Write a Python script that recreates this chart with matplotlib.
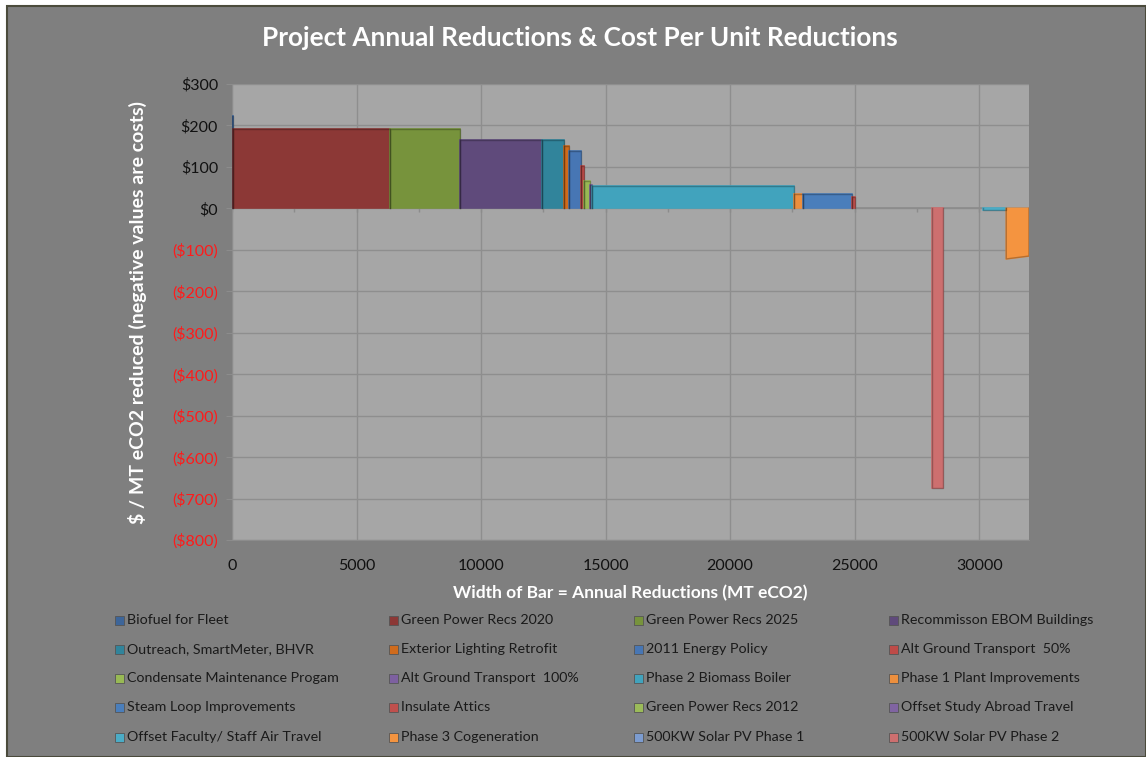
import numpy as np
import matplotlib
matplotlib.use("Agg")
import matplotlib.pyplot as plt
from matplotlib.patches import Rectangle

plt.rcParams['font.family'] = ['Lato', 'DejaVu Sans']

# legend order (as listed in the chart legend)
legend_names = [
    "Biofuel for Fleet", "Green Power Recs 2020", "Green Power Recs 2025", "Recommisson EBOM Buildings",
    "Outreach, SmartMeter, BHVR", "Exterior Lighting Retrofit", "2011 Energy Policy", "Alt Ground Transport  50%",
    "Condensate Maintenance Progam", "Alt Ground Transport  100%", "Phase 2 Biomass Boiler", "Phase 1 Plant Improvements",
    "Steam Loop Improvements", "Insulate Attics", "Green Power Recs 2012", "Offset Study Abroad Travel",
    "Offset Faculty/ Staff Air Travel", "Phase 3 Cogeneration", "500KW Solar PV Phase 1", "500KW Solar PV Phase 2",
]
legend_colors = [
    "#3d6599", "#8c3836", "#77933c", "#5f4a7b",
    "#31849b", "#d06b1c", "#4776b4", "#be4b48",
    "#98b954", "#7d60a0", "#41a3bd", "#ec8f3e",
    "#4a7ebb", "#c0504d", "#9bbb59", "#8064a2",
    "#4bacc6", "#f49440", "#7c9cd0", "#cd6f6f",
]

# bars in left-to-right order on the chart
bar_names = [
    "Biofuel for Fleet", "Green Power Recs 2020", "Green Power Recs 2025", "Recommisson EBOM Buildings",
    "Outreach, SmartMeter, BHVR", "Exterior Lighting Retrofit", "2011 Energy Policy", "Alt Ground Transport  50%",
    "Condensate Maintenance Progam", "Alt Ground Transport  100%", "Phase 2 Biomass Boiler", "Phase 1 Plant Improvements",
    "Steam Loop Improvements", "Insulate Attics", "Green Power Recs 2012", "Offset Study Abroad Travel",
    "500KW Solar PV Phase 2", "500KW Solar PV Phase 1", "Offset Faculty/ Staff Air Travel", "Phase 3 Cogeneration",
]
# annual reductions (MT eCO2) = bar width
reductions = [40, 6300, 2806, 3289, 882, 201, 481, 120, 241, 110, 8113, 361, 1954, 112,
              2000, 1097, 425, 1632, 923, 913]
# $ / MT eCO2 at left and right edge of each bar
cost_left = [222, 191, 191, 164, 165, 151, 138, 102, 65, 56, 55, 34, 35, 27,
             0, 0, -675, 0, -3, -122]
cost_right = [222, 191, 191, 164, 165, 151, 138, 102, 65, 56, 55, 34, 35, 27,
              0, 0, -675, 0, -3, -115]

W, H = 1146, 757
fig = plt.figure(figsize=(W / 100, H / 100), dpi=100)
fig.patch.set_facecolor("white")
fig.add_artist(Rectangle((7 / W, 0), 1 - 7 / W, (H - 6) / H, transform=fig.transFigure,
                         facecolor="#7f7f7f", edgecolor="#4b4b3c", linewidth=1.5, zorder=0))

ax = fig.add_axes([232 / W, 1 - 540 / H, (1029 - 232) / W, (540 - 84) / H])
ax.set_facecolor("#a6a6a6")

color_of = dict(zip(legend_names, legend_colors))
starts = np.concatenate([[0], np.cumsum(reductions)[:-1]])
for name, x0, w, v0, v1 in zip(bar_names, starts, reductions, cost_left, cost_right):
    if v0 == 0 and v1 == 0:
        continue
    ax.fill([x0, x0, x0 + w, x0 + w], [0, v0, v1, 0], facecolor=color_of[name],
            edgecolor=color_of[name], linewidth=1.2, zorder=3)
    ax.plot([x0, x0, x0 + w, x0 + w], [0, v0, v1, 0], color="black", alpha=0.25, lw=1, zorder=4)

ax.set_xlim(0, 32000)
ax.set_ylim(-800, 300)
ax.set_xticks(np.arange(0, 30001, 5000))
ax.set_yticks(np.arange(-800, 301, 100))
ax.grid(True, color="#8e8e8e", linewidth=1)
ax.set_axisbelow(True)

ylabels = []
for v in np.arange(-800, 301, 100):
    ylabels.append(f"${v}" if v >= 0 else f"(${-v})")
ax.set_yticklabels(ylabels, fontsize=11.5)
for lbl, v in zip(ax.get_yticklabels(), np.arange(-800, 301, 100)):
    lbl.set_color("#ff1a1a" if v < 0 else "#111111")
ax.set_xticklabels([str(t) for t in range(0, 30001, 5000)], fontsize=11.5, color="#111111")
ax.tick_params(axis="x", length=0, pad=14)
ax.tick_params(axis="y", length=4, color="#8c8c8c", pad=6)
for s in ["top", "right"]:
    ax.spines[s].set_visible(False)
for s in ["left", "bottom"]:
    ax.spines[s].set_color("#8c8c8c")

# category axis line at zero with small ticks
ax.axhline(0, color="#8c8c8c", linewidth=1.2, zorder=2)
ax.vlines(np.arange(0, 32001, 2500), -8, 0, color="#8c8c8c", linewidth=1, zorder=2)

ax.set_xlabel("Width of Bar = Annual Reductions (MT eCO2)", fontsize=12.5, fontweight="bold",
              color="white", labelpad=8)
ax.set_ylabel("$ / MT eCO2 reduced (negative values are costs)", fontsize=14, fontweight="bold",
              color="white", labelpad=18)
fig.text(580 / W, 1 - 38 / H, "Project Annual Reductions & Cost Per Unit Reductions",
         ha="center", va="center", fontsize=18.8, fontweight="bold", color="white")

# legend, 4 columns x 5 rows
col_x = [115, 389, 634, 889]
row_y = [620, 649, 678, 707, 737]
for i, (name, c) in enumerate(zip(legend_names, legend_colors)):
    cx = col_x[i % 4]
    cy = row_y[i // 4]
    fig.add_artist(Rectangle((cx / W, 1 - (cy + 4.5) / H), 9 / W, 9 / H, transform=fig.transFigure,
                             facecolor=c, edgecolor="#555555", linewidth=0.6))
    fig.text((cx + 12) / W, 1 - cy / H, name, ha="left", va="center", fontsize=10.3, color="#1a1a1a")

fig.savefig("out.png", dpi=100)
